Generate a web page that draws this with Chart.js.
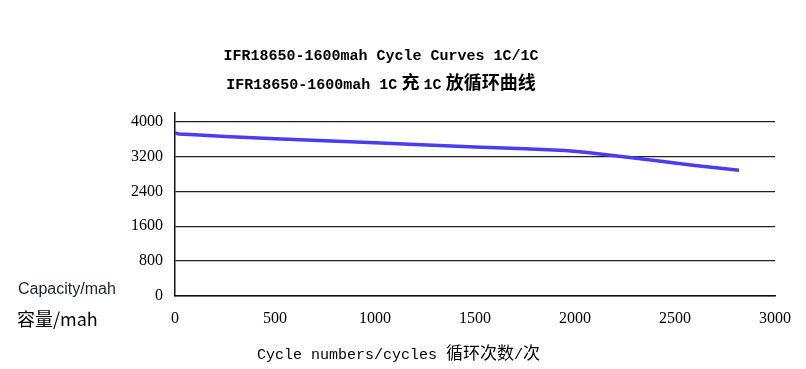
<!DOCTYPE html>
<html>
<head>
<meta charset="utf-8">
<script src="https://cdn.jsdelivr.net/npm/chart.js@4"></script>
<style>
  body { margin: 0; background: #fff; }
  #wrap { position: relative; width: 806px; height: 369px; }
  .lbl { position: absolute; white-space: nowrap; color: #000; line-height: 20px; }
  .mono { font-family: "Liberation Mono", monospace; font-size: 15px; }
  .cjk { font-family: "Noto Sans CJK SC", sans-serif; font-size: 17px; }
  .title { font-weight: bold; width: 806px; left: -22px; text-align: center; }
  .title .cjk { font-size: 18px; }
</style>
</head>
<body>
<div id="wrap">
  <canvas id="chart" width="806" height="369"></canvas>
  <div class="lbl mono title" style="top:47px">IFR18650-1600mah Cycle Curves 1C/1C</div>
  <div class="lbl mono title" style="top:71px">IFR18650-1600mah 1C<span class="cjk"> 充 </span>1C<span class="cjk"> 放循环曲线</span></div>
  <div class="lbl" style="left:18px;top:279px;font-family:'Liberation Sans',sans-serif;font-size:16px;color:#1c2333">Capacity/mah</div>
  <div class="lbl" style="left:17px;top:308px;font-family:'Noto Sans CJK SC',sans-serif;font-size:18px">容量/mah</div>
  <div class="lbl mono" style="left:257px;top:342px">Cycle numbers/cycles <span class="cjk">循环次数</span>/<span class="cjk">次</span></div>
</div>
<script>
const cycles = [0, 20, 100, 250, 500, 750, 1000, 1200, 1500, 1750, 1950, 2050, 2200, 2400, 2600, 2820];
const capacity = [3740, 3720, 3700, 3660, 3610, 3565, 3520, 3475, 3420, 3380, 3340, 3300, 3220, 3110, 2995, 2885];
const xTicks = [0, 500, 1000, 1500, 2000, 2500, 3000];
const yTicks = [0, 800, 1600, 2400, 3200, 4000];

const points = cycles.map((c, i) => ({ x: c, y: capacity[i] }));

new Chart(document.getElementById("chart"), {
  type: "line",
  data: {
    datasets: [
      {
        data: points,
        borderColor: "#4a3cf0",
        borderWidth: 3.5,
        pointRadius: 0,
        tension: 0,
        fill: false,
      },
    ],
  },
  options: {
    responsive: false,
    animation: false,
    layout: { padding: { top: 113, right: 31, left: 0, bottom: 0 } },
    plugins: { legend: { display: false }, title: { display: false }, tooltip: { enabled: false } },
    scales: {
      x: {
        type: "linear",
        min: 0,
        max: 3000,
        afterFit: (s) => { s.height = 73; },
        afterBuildTicks: (s) => { s.ticks = xTicks.map((v) => ({ value: v })); },
        grid: { display: false, drawTicks: false },
        border: { display: true, color: "#111", width: 1.5 },
        ticks: { padding: 13, color: "#000", font: { family: "Liberation Serif", size: 16 }, callback: (v) => String(v) },
      },
      y: {
        min: 0,
        max: 4200,
        afterFit: (s) => { s.width = 175; },
        afterBuildTicks: (s) => { s.ticks = yTicks.map((v) => ({ value: v })); },
        grid: { color: "#222", lineWidth: 1.3, drawTicks: false },
        border: { display: true, color: "#111", width: 1.5 },
        ticks: { padding: 12, color: "#000", font: { family: "Liberation Serif", size: 16 }, callback: (v) => String(v) },
      },
    },
  },
});
</script>
</body>
</html>
